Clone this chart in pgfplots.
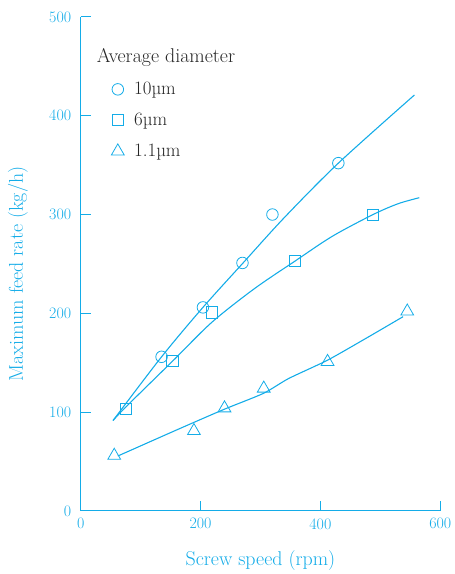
\documentclass[border=0pt]{standalone}
\usepackage{fontspec}
\usepackage{pgfplots}
\pgfplotsset{compat=1.18}
\definecolor{cy}{RGB}{20,172,232}
\newcommand{\tl}[1]{\mbox{\fontsize{16}{18}\selectfont #1}}
\begin{document}
\begin{tikzpicture}
\begin{axis}[
  scale only axis, width=361pt, height=496pt,
  xmin=0, xmax=600, ymin=0, ymax=500,
  axis lines*=left, axis line style={draw=cy, line width=0.9pt},
  tick align=inside, major tick length=10pt,
  tick style={draw=cy, line width=0.9pt},
  xtick={0,200,400,600}, ytick={0,100,200,300,400,500},
  xticklabel={\tl{\pgfmathprintnumber[assume math mode=true]{\tick}}},
  yticklabel={\tl{\pgfmathprintnumber[assume math mode=true]{\tick}}},
  tick label style={text=cy},
  yticklabel style={xshift=-6pt},
  xticklabel style={yshift=-4pt},
  xlabel={Screw speed (rpm)}, ylabel={Maximum feed rate (kg/h)},
  every axis x label/.style={at={(axis description cs:0.5,0)}, anchor=center, yshift=-50pt,
     text=cy, font=\fontsize{20}{24}\selectfont},
  every axis y label/.style={at={(axis description cs:-0.1745,0.48)}, rotate=90, anchor=center,
     text=cy, font=\fontsize{20}{24}\selectfont},
  clip=false,
  legend style={draw=none, fill=none, at={(axis cs:46,438)}, anchor=north west,
    font=\fontsize{19}{22}\selectfont, row sep=13pt, text=black!85,
    /tikz/every odd column/.append style={column sep=8pt}},
  legend cell align=left,
]
\addplot[only marks, mark=o, mark size=5.8pt, cy, line width=0.8pt] coordinates {
 (135,156) (204,206) (270,251) (320,300) (430,352)};
\addlegendentry{10\textmu m}
\addplot[only marks, mark=square, mark size=5.6pt, cy, line width=0.8pt] coordinates {
 (75,103.5) (153,152) (219,201) (358,253) (488,300)};
\addlegendentry{6\textmu m}
\addplot[only marks, mark=triangle, mark size=7.4pt, cy, line width=0.8pt] coordinates {
 (56,56) (189,81) (240,104) (305.5,124) (412,151) (545,202)};
\addlegendentry{1.1\textmu m}
\addplot[smooth, tension=0.5, cy, line width=1.1pt, forget plot] coordinates {
 (54,91.5) (135,156) (204,206) (271,251) (340,297) (430,352) (557,421)};
\addplot[smooth, tension=0.5, cy, line width=1.1pt, forget plot] coordinates {
 (54,91.5) (75,105) (154,152) (219,191) (290,225) (358,253) (420,278) (488,300) (530,311) (565,317)};
\addplot[smooth, tension=0.4, cy, line width=1.1pt, forget plot] coordinates {
 (62,55.6) (164,83) (240,103) (305,119) (347,134) (412,152.6) (477,175) (538,196.6)};
\node[anchor=west, text=black!85, font=\fontsize{20}{24}\selectfont] at (axis cs:21,459) {Average diameter};
\path ([xshift=-81pt,yshift=-61pt]rel axis cs:0,0) rectangle ([xshift=13pt,yshift=17pt]rel axis cs:1,1);
\end{axis}
\end{tikzpicture}
\end{document}
